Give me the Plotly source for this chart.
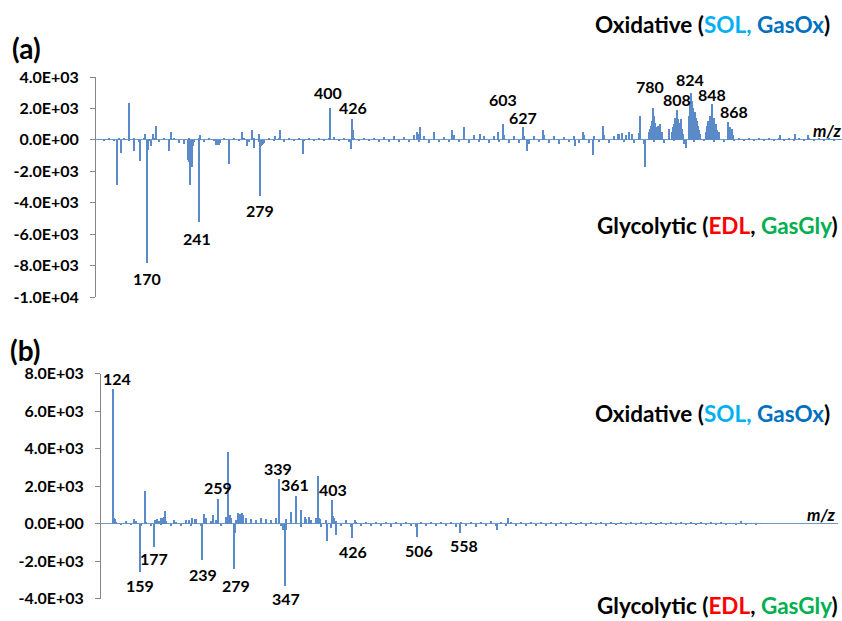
import plotly.graph_objects as go

# ---------------- DATA ----------------
# Panel (a): positions are spectrum bin indices along the (categorical) m/z axis
a_peak_bin = [21, 25, 33, 38, 44, 49, 51, 52, 55, 57, 60, 73, 75,
              92, 93, 94, 95, 96, 97, 103, 104, 120, 121, 122, 123, 124, 133,
              146, 151, 156, 158, 163, 164, 165, 166, 167, 179, 184, 207,
              234, 255, 256, 257, 321, 322, 324, 338, 356, 368, 384, 402, 407,
              427, 431, 447, 479, 487, 497, 507, 522, 526, 530, 533, 536, 544, 549,
              554, 555, 556, 557, 558, 559, 560, 561, 562, 563, 564, 566,
              576, 577, 578, 579, 580, 581, 582, 583, 584, 585, 586, 587, 590,
              593, 594, 595, 596, 597, 598, 599, 600, 601, 602, 603, 604,
              610, 611, 612, 613, 614, 615, 616, 617, 618, 619, 620, 621,
              632, 633, 634, 635, 636, 637, 684, 699, 712]
a_peak_int = [-2870, -850, 2375, -680, -1340, 360, -7810, -640, -400, 400, 890, -740, 530,
              -1300, -1400, -2870, -1500, -1700, -400, -5200, 300, -300, -350, -250, -300, -200, -1530,
              500, -400, 640, -500, 400, -3570, -400, -300, -250, 250, 600, -870,
              2040, -570, 1300, 650, 500, 400, 850, 470, 600, 810, 400, 500, 1000,
              850, -740, 600, -380, 470, -950, 890, 350, 450, 300, 500, 400, 1490, -1700,
              700, 900, 1200, 2020, 1500, 1100, 800, 600, 900, 700, 1000, 500,
              500, 800, 1000, 1400, 1200, 1910, 1300, 1100, 900, 1300, 700, 400, -500,
              1500, 2200, 3010, 2500, 2000, 1700, 1800, 1400, 1200, 900, 600, 400,
              500, 900, 1200, 1100, 1500, 1300, 2270, 1200, 1400, 900, 1000, 600,
              1130, 700, 800, 600, 700, 300, 300, 350, 300]
a_noise_bin = list(range(3, 744, 5))
a_noise_int = [40, -60, 80, -100, 60, 120, -80, 100, -120, 100,
               -80, 120, -150, 90, -120, 150, -200, -250, 120, -150,
               100, -150, 120, -100, -250, 80, -120, 150, -100, 120,
               -150, 150, -120, -200, 100, -100, 150, -120, 100, -100,
               120, -100, 150, -100, 150, -80, 120, 200, -100, 120,
               -120, 150, -100, 150, -100, 130, -150, 200, -120, 250,
               -120, 180, -150, 300, -120, 220, -180, 260, -150, 200,
               -150, 300, -120, 250, -180, 280, -150, 220, -200, 260,
               -150, 300, -220, 250, -180, 260, -250, 220, -150, 280,
               -180, 220, -250, 180, -150, 260, -220, 300, -180, 250,
               -150, 300, -180, 260, 350, -150, 400, -180, 450, -250,
               500, -150, 600, -200, 700, -100, 800, -250, 900, -150,
               450, -100, 600, -120, 500, -150, 400, -80, 100, -50,
               60, -40, 80, -50, 100, -40, 120, -50, 80, -40,
               120, -40, 100, -50, 80, -40, 70, -30, 50]
a_label_text = ["170", "241", "279", "400", "426", "603", "627", "780", "808", "824", "848", "868"]
a_label_bin = [51, 103, 164, 234, 256, 407, 427, 557, 581, 595, 616, 632]
a_label_int = [-7810, -5200, -3570, 2040, 1300, 1000, 850, 2020, 1910, 3010, 2270, 1130]

# Panel (b)
b_peak_bin = [12, 13, 14, 25, 33, 39, 44, 53, 54, 56, 58, 60, 62, 63, 64, 73, 88, 91, 94,
              101, 103, 112, 117, 125, 127, 129, 133, 134, 137, 138, 139, 140, 141, 142,
              178, 182, 183, 184, 185, 190, 195, 200, 204, 208, 217, 218, 219,
              226, 231, 232, 233, 235, 251, 254, 316, 359, 396, 407]
b_peak_int = [7220, 300, 250, 150, 250, -2540, 1760, -1240, 200, 250, 150, 300, 300, 400, 710, 200, 200, 300, 250,
              -1910, 550, 500, 1310, 400, 3850, 500, -2410, -500, 600, 300, 550, 450, 600, 500,
              2400, -300, -300, -3280, -300, 620, 1510, 760, 400, 400, 2570, 300, 250,
              -890, 1300, 450, 300, -570, -750, 200, -680, -500, -300, 300]
b_noise_bin = list(range(15, 661, 5))
b_noise_int = [60, -40, 80, -50, 150, -60, 100, -80, 200, -50,
               150, -60, 120, -80, 200, -100, 250, -60, 300, 150,
               200, -120, 250, 300, 200, 250, 300, 250, 200, 300,
               250, 200, 300, -100, 250, 200, 300, -150, 250, 200,
               300, -150, 200, -200, 150, -100, 200, -150, 100, -80,
               80, -100, 60, -120, 80, -150, 60, -100, 80, -120,
               -150, 60, -100, 80, -120, 60, -100, 80, -150, 60,
               -80, 100, -150, 120, -100, 150, -120, 100, -80, 120,
               -80, 100, -60, 120, -80, 90, -60, 100, -80, 120,
               -60, 80, -50, 100, -60, 80, -50, 70, -60, 80,
               -50, 70, -40, 80, -50, 60, -40, 70, -50, 60,
               -40, 70, -50, 60, -40, 80, -50, 60, -40, 70,
               -50, 60, -40, 50, -30, 140, -40, 50, -30, 40]
b_label_text = ["124", "159", "177", "239", "259", "279", "339", "347", "361", "403", "426", "506", "558"]
b_label_bin = [12, 39, 53, 101, 117, 133, 178, 184, 195, 231, 251, 316, 359]
b_label_int = [7220, -2540, -1240, -1910, 1310, -2410, 2400, -3280, 1510, 1300, -750, -680, -500]

a_tickvals = [4000, 2000, 0, -2000, -4000, -6000, -8000, -10000]
a_ticktext = ["4.0E+03", "2.0E+03", "0.0E+00", "-2.0E+03", "-4.0E+03", "-6.0E+03", "-8.0E+03", "-1.0E+04"]
b_tickvals = [8000, 6000, 4000, 2000, 0, -2000, -4000]
b_ticktext = ["8.0E+03", "6.0E+03", "4.0E+03", "2.0E+03", "0.0E+00", "-2.0E+03", "-4.0E+03"]

# ---------------- STYLE ----------------
FONT = "Lato"
BAR = "#5A8BC8"
# per-label (dx px, gap px) placement tweaks
a_label_off = [(0, 7), (-2, 8), (0, 6), (-2, 8), (1, 4), (0, 17), (0, 2), (-3, 14), (0, 3), (-1, 6), (0, 2), (6, 3)]
b_label_off = [(4, 2), (0, 6), (0, 3), (1, 7), (0, 4), (2, 8), (-1, 3), (1, 5), (-1, 3), (1, 2), (1, 5), (2, 6), (4, 4)]

fig = go.Figure()

def add_bars(x, y, xa, ya):
    fig.add_trace(go.Bar(x=x, y=y, xaxis=xa, yaxis=ya, width=0.9,
                         marker=dict(color=BAR, line=dict(width=0)), showlegend=False))

add_bars(a_noise_bin, a_noise_int, "x", "y")
add_bars(a_peak_bin, a_peak_int, "x", "y")
add_bars(b_noise_bin, b_noise_int, "x2", "y2")
add_bars(b_peak_bin, b_peak_int, "x2", "y2")

axis_common = dict(showgrid=False, showline=True, linecolor="#868686", linewidth=1,
                   ticks="outside", ticklen=5, tickcolor="#868686",
                   tickfont=dict(family=FONT, size=16, color="black", weight="bold"),
                   zeroline=True, zerolinecolor="#6F98CC", zerolinewidth=1,
                   ticklabelstandoff=8, automargin=False)

fig.update_layout(
    template="none",
    width=842, height=621, autosize=False,
    margin=dict(l=0, r=0, t=0, b=0, pad=0),
    paper_bgcolor="white", plot_bgcolor="white",
    barmode="overlay", bargap=0,
    xaxis=dict(domain=[96 / 842, 1.0], range=[0, 746], visible=False, fixedrange=True,
               automargin=False),
    yaxis=dict(domain=[1 - 297 / 621, 1 - 77 / 621], range=[-10000, 4000],
               tickvals=a_tickvals, ticktext=a_ticktext, **axis_common),
    xaxis2=dict(domain=[101 / 842, 838 / 842], range=[0, 737], visible=False, fixedrange=True,
                anchor="y2", automargin=False),
    yaxis2=dict(domain=[1 - 598.5 / 621, 1 - 373.5 / 621], range=[-4000, 8000],
                tickvals=b_tickvals, ticktext=b_ticktext, anchor="x2", **axis_common),
)

ann = []
def peak_labels(texts, bins, ints, offs, xr, yr):
    for t, b, v, (dx, gap) in zip(texts, bins, ints, offs):
        up = v > 0
        ann.append(dict(text=t, x=b, y=v, xref=xr, yref=yr, showarrow=False,
                        xanchor="center", yanchor="bottom" if up else "top",
                        xshift=dx, yshift=(gap - 4) if up else -(gap - 3),
                        font=dict(family=FONT, size=16, color="black", weight="bold")))

peak_labels(a_label_text, a_label_bin, a_label_int, a_label_off, "x", "y")
peak_labels(b_label_text, b_label_bin, b_label_int, b_label_off, "x2", "y2")

ox = ("Oxidative (<span style='color:#00B0F0'>SOL,</span> "
      "<span style='color:#0070C0'>GasOx</span>)")
gl = ("Glycolytic (<span style='color:#FF0000'>EDL</span>, "
      "<span style='color:#00B050'>GasGly</span>)")
title_font = dict(family=FONT, size=22.5, color="black", weight="bold")
for txt, xr, yc in [(ox, 832, 25), (gl, 840, 225), (ox, 832, 413), (gl, 840, 605)]:
    ann.append(dict(text=txt, x=xr / 842, y=1 - yc / 621, xref="paper", yref="paper",
                    xanchor="right", yanchor="middle", showarrow=False, font=title_font))
for txt, xl, yc in [("(a)", 10, 48), ("(b)", 8, 350)]:
    ann.append(dict(text=txt, x=xl / 842, y=1 - yc / 621, xref="paper", yref="paper",
                    xanchor="left", yanchor="middle", showarrow=False,
                    font=dict(family=FONT, size=28, color="black", weight="bold")))
for xl, yc in [(811, 130), (805, 514)]:
    ann.append(dict(text="<i>m/z</i>", x=xl / 842, y=1 - yc / 621, xref="paper", yref="paper",
                    xanchor="left", yanchor="middle", showarrow=False,
                    font=dict(family=FONT, size=17, color="black", weight="bold")))
fig.update_layout(annotations=ann)

fig.write_html("out.html", config={"displayModeBar": False},
               post_script="document.body.style.margin='0';document.body.style.overflow='hidden';")
